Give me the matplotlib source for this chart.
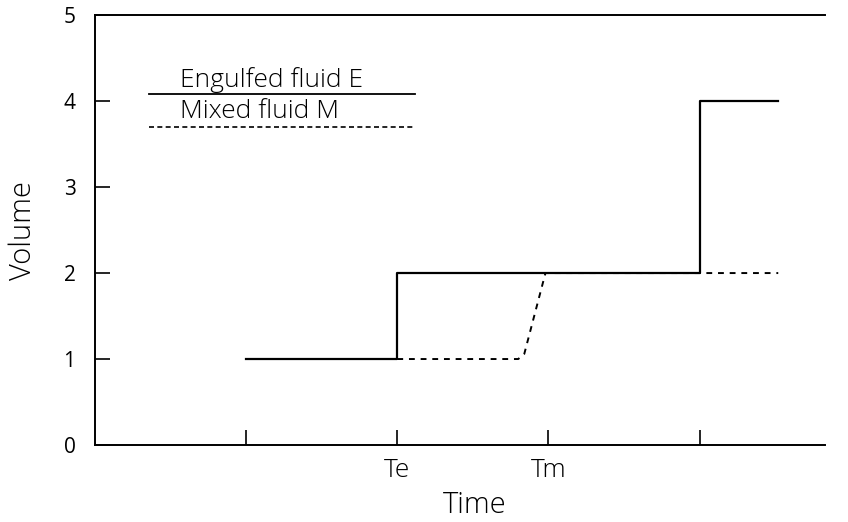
import matplotlib
matplotlib.use("Agg")
import matplotlib.pyplot as plt

plt.rcParams['font.family'] = ['Open Sans', 'DejaVu Sans']

# engulfed fluid E (solid step)
ex = [1, 2, 2, 4, 4, 4.52]
ey = [1, 1, 2, 2, 4, 4]
# mixed fluid M (dashed)
mx = [2, 2.8, 2.84, 2.98, 4.52]
my = [1, 1, 1.06, 2, 2]

xticks = [1, 2, 3, 4]
xticklabels = ['', 'Te', 'Tm', '']
yticks = [0, 1, 2, 3, 4, 5]

fig = plt.figure(figsize=(8.48, 5.22), dpi=100)
ax = fig.add_axes([0.112, 0.1475, 0.861, 0.8235])

ax.plot(ex, ey, color='black', linewidth=1.6)
ax.plot(mx, my, color='black', linewidth=1.4, linestyle=(0, (3, 3)))

# legend drawn as in the original (lines under the text)
ax.plot([0.36, 2.12], [4.08, 4.08], color='black', linewidth=1.3)
ax.plot([0.36, 2.12], [3.70, 3.70], color='black', linewidth=1.2, linestyle=(0, (3, 2)))
ax.text(0.56, 4.16, 'Engulfed fluid E', fontsize=19, fontweight='light')
ax.text(0.56, 3.80, 'Mixed fluid M', fontsize=19, fontweight='light')

ax.set_xlim(0, 4.83)
ax.set_ylim(0, 5)
ax.set_xticks(xticks)
ax.set_xticklabels(xticklabels, fontsize=19, fontweight='light')
ax.set_yticks(yticks)
ax.tick_params(direction='in', length=11, width=1.2, pad=9)
ax.tick_params(axis='y', labelsize=15, pad=14)
ax.spines['right'].set_visible(False)
for s in ['left', 'top', 'bottom']:
    ax.spines[s].set_linewidth(1.4)

ax.set_xlabel('Time', fontsize=21, fontweight='light')
ax.set_ylabel('Volume', fontsize=21, fontweight='light')
ax.xaxis.set_label_coords(0.52, -0.105)
ax.yaxis.set_label_coords(-0.078, 0.5)

fig.savefig('out.png', dpi=100)
